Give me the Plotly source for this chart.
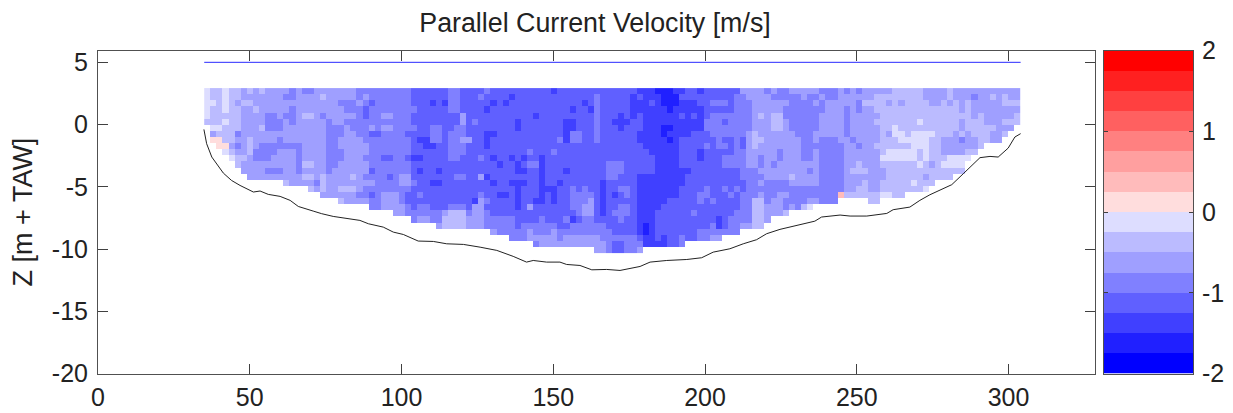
import plotly.graph_objects as go

W, H = 1233, 413
# Each string is one column of cells from the surface down: digit n = n-th blue class below 0, p / s = 1st / 2nd red class
columns = """11111 2
22122 213p
22222 212pp
11112 1222p 1
22222 22223 21
22322 22434 322
33233 33333 3233
23233 33322 23333
33323 33333 44333
23333 32334 44333
33334 44334 44343
33334 44334 43343
33333 44344 33343
34334 33334 33333 2
44344 43334 33333 3
33333 33334 44443 3
43332 33333 33232 3
43332 33333 33232 32
33333 33333 33333 43
32334 33333 33332 223
33333 44444 44443 333
33333 34444 44433 333
33433 34433 44333 3232
33443 43333 33333 3233
33443 44333 33332 3233
44344 44433 33333 3343
43455 44443 34334 3443
44544 43544 44454 34544
44444 44544 44444 44444
44443 43444 45444 44333
44443 43444 45445 44333
44444 44444 44444 44333 3
44444 44444 44443 34443 3
44444 44544 45443 34554 4
55545 54555 56555 45555 44
55555 55565 56565 55454 43
55555 55566 55555 55554 43
55655 54446 55555 65555 44
55555 54445 55565 65555 443
55655 55555 55555 55555 322
44445 55444 44555 55554 222
44445 54444 44554 55554 222
55553 34434 45554 55554 222
55555 55535 55555 55555 433
55555 45555 55555 55563 333
54555 55555 54553 55433 333
45565 55666 55556 55545 444
55655 55655 56555 65555 5443
55555 55555 55655 55655 5444
55655 55555 55555 55655 5444
56555 55555 56555 65555 54444
55555 66555 55665 66666 55544
55555 55555 56565 65555 55444
55555 55555 45455 55553 55433
55556 55555 55455 55565 55443 4
55555 55555 56666 66665 54443 3
55555 55555 55555 56555 55443 3
65555 55555 45555 56665 55433 3
55555 55545 55555 65555 55544 3
55555 66665 55565 55555 54543 3
55565 66445 55555 54444 56443 3
55555 55445 55555 55444 45443 3
55655 55555 55555 54443 34443 3
55565 55555 55555 55433 34443 3
54444 44445 55555 55555 55443 33
55555 55555 55555 66666 65444 33
55555 55555 55444 55555 55544 44
55555 65555 55444 55655 45554 55
55556 66555 55445 54554 44554 55
55555 65555 55555 54454 45554 44
56666 55555 55555 55555 55554 44
65665 55665 55556 66666 66665 43
66666 66666 55556 66666 66776 6
66566 66666 65556 66666 66666 6
76666 66666 66666 66666 55555 6
77766 67766 66666 66665 55556 6
77776 67676 66666 66655 55555 5
67766 66666 66666 66655 55555 5
65665 66655 55566 65555 55554 4
55666 66655 55565 55555 55555
55665 66555 55555 55555 45555
65566 66555 66555 55445 55544
55555 44554 55555 54455 55544
55454 44455 55555 55545 55443
55454 44444 55555 55555 56643
55454 54454 54455 54555 5554
55554 44455 54455 55455 5444
54444 44444 44455 54555 4444
34444 44455 44444 55444 443
33444 44333 33344 44444 443
33333 33222 33344 44422 222
33332 33323 34434 34322 222
43333 33333 33333 44443 33
34332 22333 33433 44433 3
44332 22333 44333 44333 3
44344 33333 33333 44344 2
34444 44333 33332 34443
34444 44433 33333 34444
33444 44444 44333 34442
34444 44444 44343 34431
34344 44334 33333 3443
43443 33344 44444 4444
44333 33344 44444 4444
44333 33344 44444 4444
33333 33334 44444 44s
43344 44433 33333 332
33333 33343 33323 332
43443 33334 33223 322
33233 33333 33323 222
33233 33333 33333 3322
32223 23332 33333 3322
32222 22222 21233 221
32322 22322 11222 221
22222 21122 11222 222
22322 22112 11222 222
22222 22212 11222 22
22222 22111 11222 12
22222 12111 22122 22
33222 22111 11223 21
33322 22122 22322 2
33322 22222 22222
33222 22233 32122
22322 22233 31122
33222 22333 3112
33332 33243 3112
33222 22333 21
34333 22233 2
33332 22222
33333 3222
32333 3233
33333 3333
32233 232
33233 23
33232 2""".split("\n")

class_values = {"1": -0.125, "2": -0.375, "3": -0.625, "4": -0.875, "5": -1.125,
                "6": -1.375, "7": -1.625, "8": -1.875, "p": 0.125, "s": 0.375}
class_colors = ["#0000FF", "#2020FF", "#4040FF", "#6060FF", "#8080FF", "#9F9FFF", "#BBBBFF", "#DDDDFF",
                "#FFDDDD", "#FFBBBB", "#FF9F9F", "#FF8080", "#FF6060", "#FF4040", "#FF2020", "#FF0000"]

bed_x = [34.9, 35.8, 37.5, 39.6, 41.3, 44.0, 46.8, 51.2, 53.4, 56.1, 60.0, 63.3, 66.0, 70.9, 73.7, 77.5, 81.9, 86.3, 89.1,
         94.0, 97.3, 100.6, 105.5, 110.5, 114.9, 120.4, 125.9, 131.4, 136.8, 141.2, 143.4, 147.8, 152.2, 154.4, 158.8,
         162.7, 167.6, 172.0, 178.6, 181.9, 187.4, 194.0, 198.9, 202.7, 208.2, 212.6, 217.0, 220.3, 224.7, 230.2, 236.2,
         238.4, 244.5, 247.8, 253.3, 259.9, 262.0, 267.5, 270.8, 274.1, 281.3, 285.1, 290.6, 293.9, 296.6, 299.9, 302.1, 304.0]
bed_z = [-0.39, -1.54, -2.61, -3.28, -3.9, -4.49, -4.89, -5.42, -5.34, -5.61, -5.77, -6.09, -6.58, -6.95, -7.16, -7.38, -7.51,
         -7.7, -7.97, -8.24, -8.64, -8.83, -9.36, -9.39, -9.58, -9.63, -9.85, -10.11, -10.59, -11.05, -10.92, -11.05, -11.05,
         -11.24, -11.32, -11.67, -11.64, -11.72, -11.4, -11.05, -10.92, -10.84, -10.7, -10.25, -9.98, -9.58, -9.25, -8.77, -8.42,
         -8.1, -7.76, -7.43, -7.27, -7.35, -7.35, -7.14, -6.84, -6.63, -6.09, -5.64, -4.83, -3.95, -2.66, -2.56, -2.61, -1.89, -1.0, -0.73]
level_x = [35, 304]
level_z = [5, 5]
x_ticks = [0, 50, 100, 150, 200, 250, 300]
z_ticks = [5, 0, -5, -10, -15, -20]
cbar_ticks = [-2, -1, 0, 1, 2]

cols = [c.replace(" ", "") for c in columns]
n_rows = max(len(c) for c in cols)
z = [[class_values[c[r]] if r < len(c) else None for c in cols] for r in range(n_rows)]

scale = []
for i, col in enumerate(class_colors):
    scale += [[i / 16, col], [(i + 1) / 16, col]]

cbar_y = [-2 + 0.25 * (i + 0.5) for i in range(16)]

fig = go.Figure()
fig.add_trace(go.Heatmap(z=z, x0=36, dx=269 / 134, y0=2.685, dy=-0.49, zmin=-2, zmax=2, colorscale=scale,
                         showscale=False, hoverongaps=False))
fig.add_trace(go.Scatter(x=bed_x, y=bed_z, mode="lines", line=dict(color="#222222", width=1), showlegend=False))
fig.add_trace(go.Scatter(x=level_x, y=level_z, mode="lines", line=dict(color="#2A2AFF", width=1), showlegend=False))
fig.add_trace(go.Heatmap(z=[[v] for v in cbar_y], y=cbar_y, x=[0.5], zmin=-2, zmax=2, colorscale=scale,
                         showscale=False, xaxis="x2", yaxis="y2"))

font = "Liberation Sans, Arial, sans-serif"
common = dict(showline=True, linecolor="#505050", linewidth=1, mirror="ticks", ticks="inside", tickcolor="#404040",
              showgrid=False, zeroline=False, tickfont=dict(family=font, size=25, color="#222222"))
fig.update_layout(
    width=W, height=H, margin=dict(l=0, r=0, t=0, b=0, autoexpand=False), paper_bgcolor="white", plot_bgcolor="white",
    showlegend=False,
    title=dict(text="Parallel Current Velocity [m/s]", x=595 / W, xanchor="center", y=1 - 23 / H, yanchor="middle",
               font=dict(family=font, size=26.8, color="#222222")),
    xaxis=dict(domain=[98 / W, 1095 / W], range=[0, 328.5], tickvals=x_ticks, ticklen=10, anchor="y",
               ticklabelstandoff=1, **common),
    yaxis=dict(domain=[(H - 373.5) / H, (H - 50.5) / H], range=[-20, 5.95], tickvals=z_ticks,
               ticktext=[str(v) for v in z_ticks], ticklen=10, anchor="x", ticklabelstandoff=4,
               title=dict(text="Z [m + TAW]", font=dict(family=font, size=27, color="#222222"), standoff=11), **common),
    xaxis2=dict(domain=[1104 / W, 1193 / W], range=[0, 1], showticklabels=False, ticks="", showline=True, mirror=True,
                linecolor="#505050", showgrid=False, zeroline=False, anchor="y2"),
    yaxis2=dict(domain=[(H - 373.5) / H, (H - 50.5) / H], range=[-2, 2], tickvals=cbar_ticks,
                ticktext=[str(v) for v in cbar_ticks], ticklen=4, side="right", anchor="x2", ticklabelstandoff=3, **common),
)
fig.write_html("out.html", config=dict(displayModeBar=False),
               post_script="document.body.style.margin='0';document.body.style.overflow='hidden';")
